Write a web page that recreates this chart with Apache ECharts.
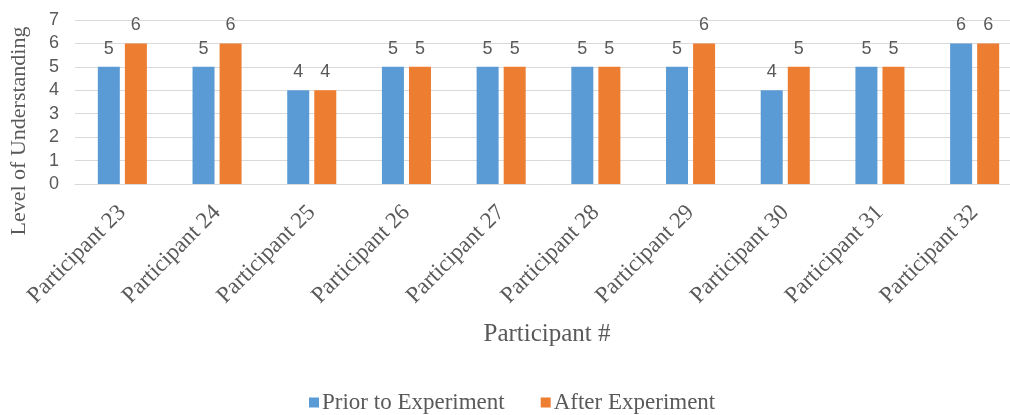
<!DOCTYPE html>
<html>
<head>
<meta charset="utf-8">
<script src="https://cdn.jsdelivr.net/npm/echarts@6/dist/echarts.min.js"></script>
<style>
  html, body { margin: 0; padding: 0; background: #fff; overflow: hidden; }
  #wrap { width: 1010px; height: 415px; overflow: hidden; }
  #chart { width: 1022px; height: 415px; }
</style>
</head>
<body>
<div id="wrap"><div id="chart"></div></div>
<script>
// Participants and their self-rated level of understanding
const categories = ['Participant 23', 'Participant 24', 'Participant 25', 'Participant 26', 'Participant 27',
                    'Participant 28', 'Participant 29', 'Participant 30', 'Participant 31', 'Participant 32'];
const priorValues = [5, 5, 4, 5, 5, 5, 5, 4, 5, 6];
const afterValues = [6, 6, 4, 5, 5, 5, 6, 5, 5, 6];
const yTicks = [0, 1, 2, 3, 4, 5, 6, 7];

const serif = '"Liberation Serif", "DejaVu Serif", serif';
const sans = '"Liberation Sans", "Open Sans", sans-serif';
const textGray = '#595959';

const chart = echarts.init(document.getElementById('chart'));

const valueLabel = {
  show: true,
  position: 'top',
  distance: 9,
  fontFamily: sans,
  fontSize: 18,
  color: textGray
};

chart.setOption({
  animation: false,
  grid: { left: 75, top: 20, right: 0, height: 164, containLabel: false },
  legend: {
    data: ['Prior to Experiment', 'After Experiment'],
    top: 386,
    left: 304,
    itemWidth: 10,
    itemHeight: 10,
    itemGap: 36,
    icon: 'rect',
    textStyle: { fontFamily: serif, fontSize: 23, color: textGray, padding: [0, 0, 0, -2] }
  },
  xAxis: {
    type: 'category',
    data: categories,
    axisLine: { lineStyle: { color: '#d9d9d9' } },
    axisTick: { show: false },
    axisLabel: {
      rotate: 45,
      interval: 0,
      margin: 25,
      fontFamily: serif,
      fontSize: 23,
      color: textGray
    }
  },
  yAxis: {
    type: 'value',
    min: yTicks[0],
    max: yTicks[yTicks.length - 1],
    interval: 1,
    axisLine: { show: false },
    axisTick: { show: false },
    splitLine: { lineStyle: { color: '#d9d9d9' } },
    axisLabel: { fontFamily: sans, fontSize: 18, color: textGray, margin: 16 }
  },
  graphic: [
    {
      type: 'text',
      x: 19,
      y: 131,
      rotation: Math.PI / 2,
      style: {
        text: 'Level of Understanding',
        fontFamily: serif,
        fontSize: 22,
        fill: textGray,
        align: 'center',
        verticalAlign: 'middle'
      }
    },
    {
      type: 'text',
      x: 547,
      y: 334,
      style: {
        text: 'Participant #',
        fontFamily: serif,
        fontSize: 25,
        fill: textGray,
        align: 'center',
        verticalAlign: 'middle'
      }
    }
  ],
  series: [
    {
      name: 'Prior to Experiment',
      type: 'bar',
      data: priorValues,
      barWidth: 22,
      barGap: '23%',
      itemStyle: { color: '#5B9BD5' },
      label: valueLabel
    },
    {
      name: 'After Experiment',
      type: 'bar',
      data: afterValues,
      barWidth: 22,
      itemStyle: { color: '#ED7D31' },
      label: valueLabel
    }
  ]
});
</script>
</body>
</html>
